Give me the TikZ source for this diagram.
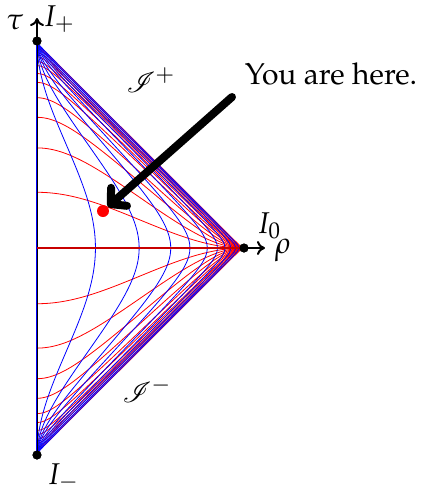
\documentclass[tikz,border=0pt]{standalone}
\usepackage[T1]{fontenc}
\usepackage{mathpazo}
\usepackage{mathrsfs}
\usetikzlibrary{arrows.meta}
\definecolor{tred}{RGB}{255,0,0}
\definecolor{rblue}{RGB}{0,0,255}
\definecolor{axisred}{RGB}{200,0,0}

\begin{document}
\begin{tikzpicture}[
    x=0.5pt,y=0.5pt,
    font=\fontsize{15}{18}\selectfont,
    tline/.style={tred,line width=0.4pt},
    rline/.style={rblue,line width=0.4pt},
    dot/.style={circle,fill=black,inner sep=0pt,minimum size=4.5pt},
    axis/.style={-{To[length=4pt,width=7pt]},line width=1pt}
  ]
    \useasboundingbox (-37,-247) rectangle (388,248);
    % lines of constant t
    \foreach \k in {0.45,0.95,1.53,2.18,3.08,3.98,5.3,6.4,8.4,11.3,18.6,32}{
      \pgfmathsetmacro\qmax{atan(\k)}
      \foreach \sg in {1,-1}
        \draw[tline] plot[domain=-89.7:\qmax,samples=90,variable=\q]
          ({1.15*(atan(2*\k-tan(\q))-\q)},{\sg*1.15*(atan(2*\k-tan(\q))+\q)});
    }
    % lines of constant r
    \foreach \k in {0.475,0.98,1.61,2.3,3.5,4.9,6.9,10,16,27}{
      \pgfmathsetmacro\qmin{-atan(\k)}
      \foreach \sg in {1,-1}
        \draw[rline] plot[domain=\qmin:89.7,samples=90,variable=\q]
          ({1.15*(atan(tan(\q)+2*\k)-\q)},{\sg*1.15*(atan(tan(\q)+2*\k)+\q)});
    }
    \coordinate (origin) at (0,0);
    \node[dot] (Ip) at (0,207) {};
    \node[dot] (Im) at (0,-207) {};
    \node[dot] (Io) at (207,0) {};
    \draw[black,line width=1.4pt] (Im.center) -- (Ip.center);
    \draw[rblue,line width=0.5pt,xshift=0.7] (Im.center) -- (Ip.center);
    \draw[black!60,line width=1.4pt] (origin) -- (Io.center);
    \draw[axisred,line width=1pt,yshift=-0.5] (origin) -- (Io.center);
    \node[dot] at (Ip) {};
    \node[dot] at (Im) {};
    \node[dot] at (Io) {};
    \coordinate (tauend) at (0,230);
    \coordinate (rhoend) at (228,0);
    \draw[axis] (Ip.center) -- (tauend);
    \draw[axis] (Io.center) -- (rhoend);
    \node (tau) at (-22,226) {$\tau$};
    \node (Iplus) at (22,229) {$I_+$};
    \node (Izero) at (232,22) {$I_0$};
    \node (rho) at (246,-2) {$\rho$};
    \node (Iminus) at (26,-229) {$I_-$};
    \node (scriplus) at (114,168) {$\mathscr{I}^+$};
    \node (scriminus) at (110,-142) {$\mathscr{I}^-$};
    \node[circle,fill=tred,inner sep=0pt,minimum size=6pt] (here) at (66,37) {};
    \node (you) at (294,174) {You are here.};
    \coordinate (astart) at (195,151);
    \draw[line width=4pt,line cap=round,
      -{Straight Barb[length=5.5pt,width=12pt,round]}] (astart) -- (here);
  \end{tikzpicture}
\end{document}
